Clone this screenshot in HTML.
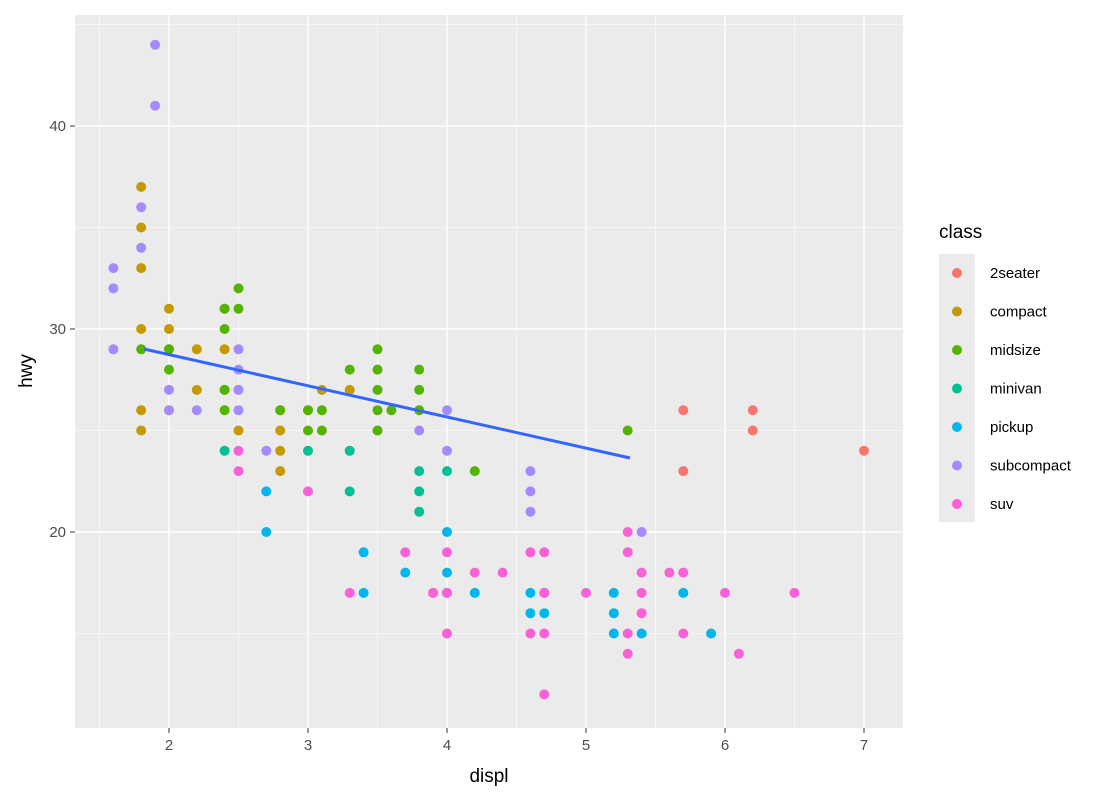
<!DOCTYPE html>
<html><head><meta charset="utf-8"><style>
body{margin:0;background:#fff;}
svg{display:block;font-family:"Liberation Sans",sans-serif;}
</style></head><body>
<svg id="s" width="1120" height="800" xmlns="http://www.w3.org/2000/svg">
<rect x="0" y="0" width="1120" height="800" fill="#fff"/>
<rect x="75" y="15" width="828" height="713" fill="#EBEBEB"/>
<g id="grid"></g>
<g id="pts"></g>
<line x1="144" y1="349" x2="630" y2="458" stroke="#3366FF" stroke-width="3"/>
<g id="axes" font-size="15" fill="#4D4D4D"></g>
<text x="489" y="782" font-size="19" text-anchor="middle" fill="#000">displ</text>
<text transform="translate(32,371) rotate(-90)" font-size="19" text-anchor="middle" fill="#000">hwy</text>
<text x="939" y="238" font-size="19" fill="#000">class</text>
<rect x="939" y="254" width="36" height="268" fill="#EBEBEB"/>
<g id="leg" font-size="15" fill="#000"></g>
</svg>
<script>
const NS="http://www.w3.org/2000/svg";
function X(v){return 169+(v-2)*139;}
function Y(v){return 532-(v-20)*20.3;}
function el(p,t,a,txt){const e=document.createElementNS(NS,t);for(const k in a)e.setAttribute(k,a[k]);if(txt!==undefined)e.textContent=txt;document.getElementById(p).appendChild(e);}
for(let v=1.5;v<=7;v+=0.5){const maj=Math.abs(v-Math.round(v))<1e-6;el('grid','line',{x1:X(v),x2:X(v),y1:15,y2:728,stroke:'#fff','stroke-width':maj?1.4:0.6});}
for(let v=15;v<=45;v+=5){const maj=v%10==0;el('grid','line',{x1:75,x2:903,y1:Y(v),y2:Y(v),stroke:'#fff','stroke-width':maj?1.4:0.6});}
for(let v=2;v<=7;v++){el('axes','line',{x1:X(v),x2:X(v),y1:728,y2:733,stroke:'#333','stroke-width':1});el('axes','text',{x:X(v),y:750,'text-anchor':'middle'},v);}
for(let v=20;v<=40;v+=10){el('axes','line',{x1:70,x2:75,y1:Y(v),y2:Y(v),stroke:'#333','stroke-width':1});el('axes','text',{x:66,y:Y(v)+5,'text-anchor':'end'},v);}
const C={a:'#F8766D',c:'#C49A00',m:'#53B400',v:'#00C094',p:'#00B6EB',s:'#A58AFF',u:'#FB61D7'};
const D={
a:[[5.7,26],[5.7,23],[6.2,26],[6.2,25],[7,24]],
c:[[1.8,37],[1.8,35],[1.8,33],[1.8,30],[1.8,26],[1.8,25],[2,31],[2,30],[2,29],[2.2,29],[2.2,27],[2.4,31],[2.4,29],[2.4,27],[2.5,27],[2.5,25],[2.8,26],[2.8,25],[2.8,24],[2.8,23],[3,26],[3.1,27],[3.3,27],[2,26]],
m:[[1.8,29],[2,29],[2,28],[2.4,31],[2.4,30],[2.4,27],[2.4,26],[2.5,32],[2.5,31],[2.8,26],[3,25],[3.1,26],[3.1,25],[3.3,28],[3.5,29],[3.5,28],[3.5,27],[3.5,26],[3.5,25],[3.6,26],[3.8,28],[3.8,27],[3.8,26],[4.2,23],[5.3,25],[3,26]],
v:[[2.4,24],[3,24],[3.3,24],[3.3,22],[3.8,23],[3.8,22],[3.8,21],[4,23]],
p:[[2.7,22],[2.7,20],[3.4,19],[3.4,17],[3.7,18],[4,20],[4,18],[4,17],[4.2,17],[4.6,17],[4.6,16],[4.7,17],[4.7,16],[5.2,17],[5.2,16],[5.2,15],[5.4,15],[5.7,17],[5.9,15]],
s:[[1.6,33],[1.6,32],[1.6,29],[1.8,36],[1.8,34],[1.9,44],[1.9,41],[2,27],[2,26],[2.2,26],[2.5,29],[2.5,28],[2.5,27],[2.5,26],[2.7,24],[3.8,25],[4,26],[4,24],[4.6,23],[4.6,22],[4.6,21],[5.4,20],[3.9,17]],
u:[[2.5,24],[2.5,23],[3,22],[3.3,17],[3.7,19],[3.9,17],[4,19],[4,17],[4,15],[4.2,18],[4.4,18],[4.6,19],[4.6,15],[4.7,19],[4.7,17],[4.7,15],[4.7,12],[5,17],[5.3,20],[5.3,19],[5.3,15],[5.3,14],[5.4,18],[5.4,17],[5.4,16],[5.6,18],[5.7,18],[5.7,15],[6,17],[6.1,14],[6.5,17]]};
for(const k in D)for(const [x,y] of D[k])el('pts','circle',{cx:X(x),cy:Y(y),r:5,fill:C[k]});
const L=[['a','2seater'],['c','compact'],['m','midsize'],['v','minivan'],['p','pickup'],['s','subcompact'],['u','suv']];
L.forEach(([k,n],i)=>{const y=273+i*38.5;el('leg','circle',{cx:957,cy:y,r:5,fill:C[k]});el('leg','text',{x:990,y:y+5},n);});
</script>
</body></html>
